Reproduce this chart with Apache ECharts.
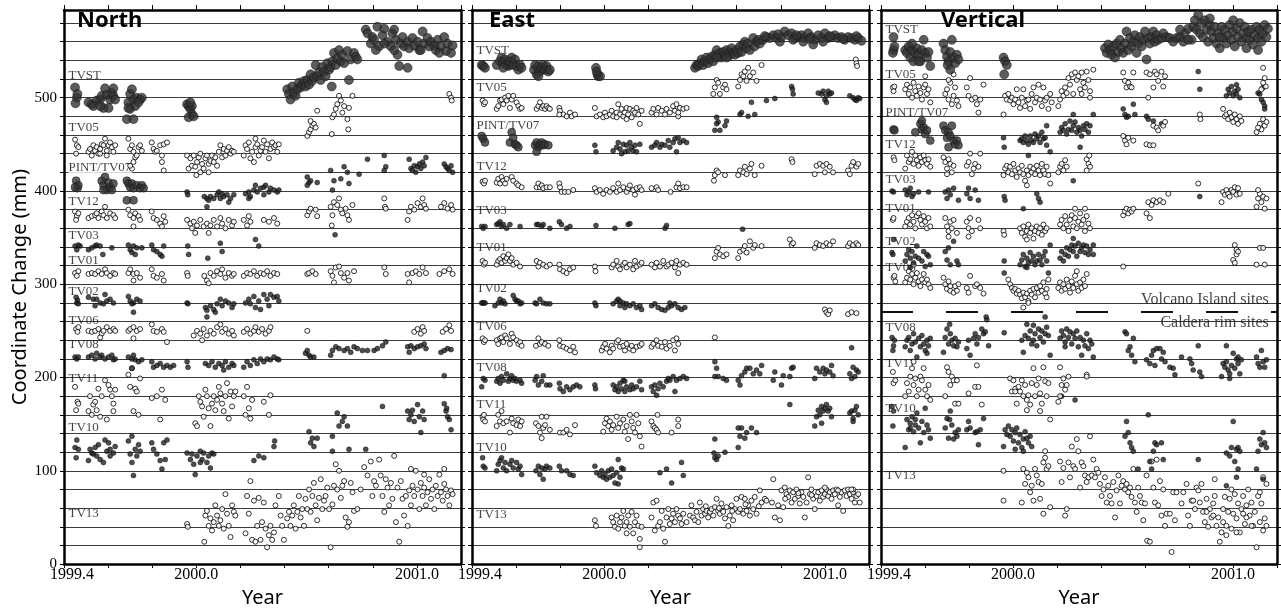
<!DOCTYPE html>
<html><head><meta charset="utf-8">
<script src="https://cdn.jsdelivr.net/npm/echarts@6/dist/echarts.min.js"></script>
<style>html,body{margin:0;padding:0;background:#fff;}#c{width:1281px;height:613px;}</style>
</head><body><div id="c"></div>
<script>
const X_MIN = 1999.4, X_MAX = 2001.2, X_STEP = 0.2, Y_MIN = 0, Y_MAX = 594, Y_STEP = 20;
const X_LABELS = ['1999.4', '2000.0', '2001.0'];
const PANEL_TITLES = ['North', 'East', 'Vertical'];
const STATIONS = ['TVST','TV05','PINT/TV07','TV12','TV03','TV01','TV02','TV06','TV08','TV11','TV10','TV13'];
const LABEL_X = 1999.418;
const N_LABEL_Y = [524,468,425,389,352,325,292,261,235,199,146,54];
const E_LABEL_Y = [551,511,470,426,379,339,295,255,211,171,125,53];
const V_LABEL_Y = [573,525,484,450,412,381,346,318,254,215,167,95];
const SITE_NOTES = ['Volcano Island sites', 'Caldera rim sites'];
const SITE_NOTE_X = 2001.165;
const SITE_NOTE_Y = [283, 259];
const DIVIDER_Y = 270;

// ---------------- North ----------------
const N_TVST = [[1999.450,511],[1999.458,500],[1999.461,504],[1999.452,494],
[1999.511,495],[1999.526,493],[1999.548,497],[1999.564,498],[1999.571,502],[1999.586,510],[1999.594,503],[1999.609,498],[1999.617,505],[1999.624,502],[1999.632,498],[1999.602,489],[1999.579,489],[1999.533,491],[1999.564,491],[1999.624,510],
[1999.685,477],[1999.715,477],[1999.692,495],[1999.700,504],[1999.708,509],[1999.715,498],[1999.730,500],[1999.745,498],[1999.753,500],[1999.723,491],[1999.700,488],[1999.738,495],[1999.692,489],
[1999.958,493],[1999.965,491],[1999.973,488],[1999.980,491],[1999.980,482],[1999.965,479],[1999.988,480],[1999.973,495],
[2000.412,509],[2000.420,504],[2000.427,498],[2000.435,512],[2000.442,505],[2000.450,502],[2000.458,509],[2000.465,516],[2000.473,511],[2000.480,514],[2000.488,518],[2000.495,512],[2000.503,519],[2000.511,514],[2000.518,525],[2000.526,518],[2000.533,522],[2000.541,535],[2000.548,523],[2000.556,527],[2000.564,519],[2000.571,533],[2000.579,528],[2000.586,523],[2000.594,537],[2000.602,530],[2000.609,533],[2000.617,539],[2000.624,548],[2000.632,535],[2000.639,542],[2000.647,551],[2000.655,539],[2000.662,546],[2000.670,537],[2000.685,550],[2000.692,519],[2000.700,541],[2000.715,548],[2000.723,544],[2000.730,541],[2000.614,512],
[2000.768,573],[2000.776,569],[2000.791,558],[2000.798,565],[2000.806,562],[2000.821,576],[2000.829,555],[2000.844,567],[2000.852,574],[2000.867,560],[2000.882,555],[2000.889,569],[2000.897,573],[2000.905,562],[2000.912,546],[2000.920,534],[2000.927,558],[2000.935,565],[2000.942,555],[2000.958,560],[2000.958,532],[2000.965,553],[2000.980,564],[2000.988,556],[2001.003,560],[2001.011,551],[2001.026,571],[2001.033,558],[2001.048,564],[2001.056,555],[2001.064,560],[2001.079,556],[2001.086,551],[2001.094,562],[2001.109,555],[2001.124,565],[2001.132,550],[2001.139,558],[2001.155,548],[2001.162,556],[2000.814,551],[2000.852,558],[2000.897,551],[2001.018,551],[2001.102,548]];
const N_TV05 = [[1999.450,455],[1999.458,449],[1999.465,447],[1999.455,440],
[1999.511,442],[1999.518,445],[1999.533,449],[1999.541,443],[1999.548,447],[1999.556,440],[1999.564,445],[1999.571,450],[1999.579,449],[1999.586,456],[1999.594,443],[1999.602,449],[1999.609,452],[1999.617,447],[1999.624,442],[1999.632,449],[1999.526,438],[1999.564,440],[1999.594,438],
[1999.692,456],[1999.700,445],[1999.708,449],[1999.715,442],[1999.723,436],[1999.730,438],[1999.738,447],[1999.745,449],[1999.753,443],[1999.715,431],[1999.708,424],[1999.700,427],
[1999.798,452],[1999.806,445],[1999.814,442],[1999.821,443],[1999.836,449],[1999.852,450],[1999.844,431],[1999.852,422],[1999.867,452],[1999.844,438],
[1999.958,438],[1999.965,424],[1999.973,435],[1999.980,427],[1999.988,438],[1999.995,426],[2000.003,431],[2000.011,436],[2000.018,440],[2000.026,429],[2000.033,424],[2000.041,435],[2000.048,438],[2000.056,429],[2000.064,432],[2000.071,438],[2000.079,431],[2000.086,436],[2000.094,427],[2000.102,442],[2000.109,449],[2000.117,436],[2000.124,445],[2000.132,438],[2000.139,443],[2000.147,447],[2000.155,440],[2000.162,443],[2000.170,442],[2000.000,417],[2000.018,420],[2000.056,420],
[2000.215,438],[2000.223,449],[2000.230,445],[2000.238,452],[2000.245,435],[2000.253,442],[2000.261,431],[2000.268,447],[2000.276,450],[2000.283,438],[2000.291,443],[2000.298,447],[2000.306,454],[2000.314,442],[2000.321,450],[2000.329,435],[2000.336,445],[2000.344,452],[2000.352,447],[2000.359,449],[2000.367,442],[2000.374,450],[2000.268,456],
[2000.503,459],[2000.511,463],[2000.518,466],[2000.526,470],[2000.533,472],[2000.541,468],[2000.518,475],[2000.548,486],[2000.614,461],[2000.617,479],[2000.624,482],[2000.632,488],[2000.639,493],[2000.647,502],[2000.655,497],[2000.662,484],[2000.670,491],[2000.685,477],[2000.692,489],[2000.689,466],[2000.708,502],[2001.147,504],[2001.155,500],[2001.158,497]];
const N_PINT_A = [[1999.455,411],[1999.461,403],[1999.465,406],[1999.450,404],
[1999.571,411],[1999.579,406],[1999.586,415],[1999.594,401],[1999.602,409],[1999.609,404],[1999.617,401],[1999.624,408],[1999.579,401],
[1999.685,411],[1999.692,408],[1999.700,404],[1999.708,408],[1999.715,403],[1999.730,406],[1999.745,403],[1999.753,406],[1999.761,403],[1999.685,390],[1999.715,390]];
const N_PINT_B = [[1999.958,399],[1999.961,396],
[2000.036,394],[2000.048,392],[2000.056,390],[2000.064,394],[2000.079,392],[2000.094,396],[2000.102,399],[2000.109,392],[2000.117,397],[2000.124,394],[2000.139,396],[2000.155,392],[2000.170,396],[2000.048,383],[2000.147,388],
[2000.223,397],[2000.238,399],[2000.245,394],[2000.261,401],[2000.268,406],[2000.276,399],[2000.291,403],[2000.306,404],[2000.314,406],[2000.329,399],[2000.336,403],[2000.352,401],[2000.367,399],[2000.374,401],[2000.306,396],[2000.238,392],
[2000.503,415],[2000.511,409],[2000.518,411],[2000.503,406],[2000.548,409],[2000.609,422],[2000.617,401],[2000.624,411],[2000.655,413],[2000.670,426],[2000.685,420],[2000.692,408],[2000.738,418],[2000.776,434],[2000.852,438],[2000.859,426],[2000.852,422],[2000.965,434],[2000.973,424],[2000.988,427],[2000.995,420],[2001.003,426],[2001.011,429],[2001.018,424],[2001.026,431],[2001.033,427],[2001.041,436],[2000.980,422],[2001.124,429],[2001.132,426],[2001.139,424],[2001.147,422],[2001.155,427],[2001.162,420]];
const N_TV12 = [[1999.450,378],[1999.458,373],[1999.465,376],[1999.455,369],
[1999.511,371],[1999.526,373],[1999.541,374],[1999.548,376],[1999.556,371],[1999.571,378],[1999.579,374],[1999.586,383],[1999.594,371],[1999.609,376],[1999.624,374],[1999.632,371],
[1999.692,380],[1999.700,374],[1999.715,371],[1999.723,376],[1999.738,373],[1999.745,369],[1999.715,362],
[1999.798,378],[1999.806,371],[1999.821,369],[1999.836,365],[1999.844,362],[1999.852,373],[1999.859,367],
[1999.958,369],[1999.973,365],[1999.980,360],[1999.988,367],[1999.995,355],[2000.003,363],[2000.018,369],[2000.033,362],[2000.048,365],[2000.056,355],[2000.064,363],[2000.079,369],[2000.094,362],[2000.109,371],[2000.117,365],[2000.132,360],[2000.147,369],[2000.162,363],[2000.170,367],
[2000.215,369],[2000.230,363],[2000.238,373],[2000.245,367],[2000.306,369],[2000.329,367],[2000.352,371],[2000.367,365],
[2000.503,374],[2000.511,378],[2000.518,381],[2000.541,380],[2000.548,373],[2000.609,383],[2000.617,374],[2000.624,388],[2000.639,385],[2000.647,392],[2000.655,380],[2000.662,376],[2000.677,381],[2000.685,374],[2000.692,369],[2000.708,385],[2000.614,363],[2000.852,392],[2000.855,383],[2000.859,381],[2000.958,369],[2000.965,378],[2000.973,383],[2000.988,380],[2001.003,387],[2001.018,383],[2001.026,392],[2001.033,385],[2001.041,381],[2001.109,383],[2001.124,387],[2001.139,381],[2001.155,385],[2001.162,380]];
const N_TV03 = [[1999.450,341],[1999.458,337],[1999.473,341],[1999.465,342],
[1999.511,337],[1999.526,339],[1999.541,341],[1999.548,342],[1999.564,341],[1999.576,332],[1999.617,339],
[1999.692,342],[1999.700,337],[1999.708,334],[1999.715,341],[1999.723,332],[1999.730,339],[1999.753,339],
[1999.798,342],[1999.806,337],[1999.821,335],[1999.836,332],[1999.852,341],[1999.844,330],
[1999.961,341],[1999.965,332],[2000.052,328],[2000.109,344],[2000.117,335],[2000.268,348],[2000.283,341],[2000.629,353]];
const N_TV01 = [[1999.450,312],[1999.458,309],[1999.465,314],
[1999.511,311],[1999.526,312],[1999.541,311],[1999.556,314],[1999.571,311],[1999.586,316],[1999.594,312],[1999.609,309],[1999.624,312],[1999.632,311],
[1999.692,312],[1999.700,316],[1999.715,311],[1999.730,312],[1999.745,307],[1999.715,304],
[1999.798,316],[1999.806,309],[1999.821,307],[1999.844,311],[1999.852,304],
[1999.958,312],[1999.961,309],
[2000.036,309],[2000.048,304],[2000.064,312],[2000.079,309],[2000.094,314],[2000.109,311],[2000.117,316],[2000.132,307],[2000.147,312],[2000.162,309],[2000.170,311],[2000.056,301],
[2000.215,309],[2000.230,312],[2000.245,311],[2000.261,314],[2000.276,309],[2000.291,312],[2000.306,311],[2000.321,314],[2000.336,309],[2000.352,312],[2000.367,311],
[2000.503,311],[2000.511,312],[2000.526,314],[2000.541,311],[2000.609,314],[2000.617,309],[2000.624,302],[2000.632,318],[2000.647,319],[2000.655,312],[2000.670,307],[2000.685,312],[2000.692,304],[2000.715,314],[2000.852,318],[2000.859,311],[2000.958,311],[2000.965,302],[2000.980,312],[2000.995,314],[2001.011,311],[2001.026,318],[2001.041,312],[2001.102,311],[2001.124,314],[2001.147,316],[2001.162,311]];
const N_TV02 = [[1999.458,280],[1999.461,283],[1999.465,279],[1999.455,286],
[1999.511,286],[1999.533,284],[1999.548,284],[1999.564,280],[1999.586,289],[1999.594,282],[1999.609,284],[1999.624,280],[1999.579,279],[1999.541,277],
[1999.692,287],[1999.700,282],[1999.715,280],[1999.730,284],[1999.745,282],[1999.715,270],[1999.708,279],
[1999.958,280],[1999.962,279],
[2000.041,275],[2000.048,272],[2000.064,277],[2000.079,273],[2000.094,279],[2000.109,284],[2000.117,277],[2000.132,282],[2000.147,280],[2000.162,275],[2000.170,279],[2000.048,265],[2000.086,270],
[2000.223,280],[2000.238,284],[2000.245,279],[2000.261,287],[2000.268,275],[2000.283,282],[2000.306,289],[2000.321,284],[2000.329,277],[2000.336,289],[2000.352,286],[2000.367,287],[2000.374,282],[2000.291,273]];
const N_TV06 = [[1999.455,252],[1999.461,249],[1999.465,254],
[1999.511,250],[1999.526,249],[1999.541,250],[1999.556,252],[1999.571,247],[1999.579,250],[1999.594,254],[1999.609,250],[1999.624,252],[1999.632,250],[1999.564,243],
[1999.692,250],[1999.700,252],[1999.715,254],[1999.730,250],[1999.745,252],[1999.715,242],
[1999.798,257],[1999.806,250],[1999.821,249],[1999.844,252],[1999.852,249],[1999.867,238],
[1999.988,245],[2000.003,250],[2000.018,247],[2000.026,240],[2000.033,252],[2000.048,245],[2000.064,250],[2000.079,247],[2000.094,254],[2000.109,257],[2000.117,249],[2000.132,252],[2000.147,247],[2000.162,250],[2000.170,245],
[2000.215,249],[2000.230,252],[2000.245,247],[2000.261,250],[2000.268,254],[2000.283,249],[2000.298,252],[2000.314,247],[2000.329,250],[2000.336,254],
[2000.503,250],[2000.988,249],[2001.003,252],[2001.018,247],[2001.026,254],[2001.033,250],[2001.117,249],[2001.132,252],[2001.147,256],[2001.155,250]];
const N_TV08 = [[1999.450,222],[1999.458,220],[1999.465,222],
[1999.511,222],[1999.526,224],[1999.541,220],[1999.548,226],[1999.564,222],[1999.571,224],[1999.586,220],[1999.602,222],[1999.617,224],[1999.624,219],[1999.632,220],
[1999.692,222],[1999.708,220],[1999.715,224],[1999.723,219],[1999.738,217],[1999.753,219],[1999.708,210],
[1999.798,217],[1999.806,211],[1999.821,213],[1999.836,215],[1999.852,211],[1999.867,213],[1999.882,211],[1999.897,213],
[1999.958,217],[1999.962,211],
[2000.041,215],[2000.056,213],[2000.071,217],[2000.086,211],[2000.102,215],[2000.117,213],[2000.132,217],[2000.147,211],[2000.162,215],[2000.170,213],[2000.124,208],
[2000.215,211],[2000.230,217],[2000.245,213],[2000.261,219],[2000.276,215],[2000.291,220],[2000.306,217],[2000.321,220],[2000.336,219],[2000.352,222],[2000.367,220],[2000.374,219],
[2000.495,226],[2000.503,229],[2000.511,224],[2000.518,222],[2000.533,222],
[2000.609,224],[2000.617,229],[2000.632,233],[2000.647,231],[2000.670,229],[2000.685,231],[2000.700,227],[2000.715,233],[2000.730,231],[2000.753,229],[2000.776,229],[2000.806,229],[2000.821,231],[2000.844,234],[2000.859,238],[2000.958,233],[2000.965,227],[2000.973,234],[2000.988,231],[2001.003,233],[2001.018,234],[2001.033,236],[2001.041,231],[2001.109,227],[2001.124,229],[2001.139,231],[2001.155,230],[2001.124,202]];
const N_TV11 = [[1999.450,190],[1999.455,165],[1999.461,174],[1999.465,172],
[1999.511,164],[1999.518,180],[1999.526,160],[1999.533,171],[1999.541,174],[1999.548,165],[1999.556,188],[1999.564,158],[1999.571,180],[1999.586,197],[1999.594,155],[1999.602,192],[1999.609,187],[1999.617,180],[1999.624,164],[1999.632,187],[1999.624,172],
[1999.692,203],[1999.700,190],[1999.708,210],[1999.715,164],[1999.723,188],[1999.730,185],[1999.738,160],[1999.745,199],
[1999.798,178],[1999.821,180],[1999.836,155],[1999.844,187],[1999.859,176],
[1999.995,151],[2000.003,148],[2000.011,180],[2000.018,174],[2000.026,169],[2000.033,158],[2000.041,187],[2000.048,180],[2000.056,167],[2000.064,148],[2000.071,172],[2000.079,180],[2000.086,165],[2000.094,176],[2000.102,190],[2000.109,183],[2000.117,172],[2000.124,164],[2000.132,180],[2000.139,194],[2000.147,156],[2000.155,185],[2000.162,169],[2000.170,180],[2000.177,185],
[2000.215,180],[2000.223,160],[2000.230,190],[2000.238,167],[2000.245,156],[2000.253,176],[2000.306,174],[2000.329,160],[2000.336,181]];
const N_TV10 = [[1999.450,125],[1999.458,133],[1999.455,114],[1999.465,123],
[1999.511,111],[1999.518,123],[1999.526,119],[1999.533,118],[1999.541,125],[1999.548,116],[1999.556,128],[1999.564,112],[1999.579,109],[1999.586,133],[1999.594,121],[1999.602,130],[1999.609,123],[1999.624,119],[1999.632,126],[1999.609,116],
[1999.692,132],[1999.700,118],[1999.708,137],[1999.715,95],[1999.723,123],[1999.730,116],[1999.738,128],[1999.745,121],[1999.708,109],
[1999.798,130],[1999.806,123],[1999.821,118],[1999.836,111],[1999.844,102],[1999.852,130],[1999.867,133],[1999.859,112],
[1999.958,119],[1999.973,112],[1999.980,118],[1999.988,107],[1999.995,96],[2000.003,116],[2000.018,121],[2000.026,112],[2000.033,119],[2000.048,109],[2000.056,116],[2000.064,103],[2000.071,119],[2000.079,118],[2000.018,109],
[2000.261,111],[2000.283,116],[2000.306,114],[2000.352,126],[2000.355,132],
[2000.511,142],[2000.518,130],[2000.526,135],[2000.533,126],[2000.548,135],[2000.617,137],[2000.617,121],[2000.639,162],[2000.647,148],[2000.662,153],[2000.670,158],[2000.685,148],[2000.692,123],[2000.768,123],[2000.844,169],[2000.958,164],[2000.965,155],[2000.973,160],[2000.980,165],[2000.988,153],[2001.003,171],[2001.011,158],[2001.018,141],[2001.026,164],[2001.033,155],[2001.124,172],[2001.132,164],[2001.139,158],[2001.147,155],[2001.155,144],[2001.135,167]];
const N_TV13 = [[1999.958,43],[1999.961,40],[2000.036,24],[2000.041,52],[2000.048,57],[2000.056,41],[2000.064,49],[2000.071,36],[2000.079,45],[2000.086,63],[2000.094,52],[2000.102,41],[2000.109,47],[2000.117,59],[2000.124,38],[2000.132,75],[2000.139,54],[2000.147,41],[2000.155,29],[2000.162,63],[2000.170,56],[2000.177,52],
[2000.223,33],[2000.230,73],[2000.238,54],[2000.245,89],[2000.253,26],[2000.261,68],[2000.268,24],[2000.276,41],[2000.283,71],[2000.291,26],[2000.298,45],[2000.306,66],[2000.314,38],[2000.321,18],[2000.329,31],[2000.336,41],[2000.344,26],[2000.352,34],[2000.359,63],[2000.374,73],[2000.382,52],[2000.389,41],[2000.397,26],
[2000.412,49],[2000.420,56],[2000.427,41],[2000.435,52],[2000.442,63],[2000.450,38],[2000.458,56],[2000.465,73],[2000.473,50],[2000.480,59],[2000.488,41],[2000.495,70],[2000.503,59],[2000.511,80],[2000.518,56],[2000.526,73],[2000.533,87],[2000.541,63],[2000.548,47],[2000.556,71],[2000.564,91],[2000.571,59],[2000.579,68],[2000.586,73],[2000.594,82],[2000.602,59],[2000.609,18],[2000.617,64],[2000.624,84],[2000.632,107],[2000.639,80],[2000.647,100],[2000.655,71],[2000.662,84],[2000.670,89],[2000.677,50],[2000.685,40],[2000.692,45],[2000.700,87],[2000.708,77],[2000.715,57],[2000.730,59],[2000.745,80],[2000.761,104],[2000.776,95],[2000.791,110],[2000.798,73],[2000.806,89],[2000.814,84],[2000.829,112],[2000.836,95],[2000.844,73],[2000.852,56],[2000.859,91],[2000.867,82],[2000.874,63],[2000.882,87],[2000.889,70],[2000.897,116],[2000.905,45],[2000.912,82],[2000.920,24],[2000.927,89],[2000.935,70],[2000.942,52],[2000.950,73],[2000.958,41],[2000.965,79],[2000.973,63],[2000.980,84],[2000.988,73],[2000.995,100],[2001.003,80],[2001.011,59],[2001.018,87],[2001.026,73],[2001.033,82],[2001.041,63],[2001.048,77],[2001.056,91],[2001.064,70],[2001.071,80],[2001.079,59],[2001.086,84],[2001.094,73],[2001.102,96],[2001.109,77],[2001.117,68],[2001.124,86],[2001.132,80],[2001.139,73],[2001.147,63],[2001.155,79],[2001.162,75],[2000.973,102],[2001.033,96],[2001.124,102]];

// ---------------- East ----------------
const E_TVST = [[1999.444,535],[1999.451,534],[1999.459,532],
[1999.512,535],[1999.527,539],[1999.534,543],[1999.542,537],[1999.550,541],[1999.557,535],[1999.565,534],[1999.572,539],[1999.580,543],[1999.587,535],[1999.595,541],[1999.602,534],[1999.610,530],[1999.618,535],[1999.625,532],[1999.542,532],
[1999.681,530],[1999.686,535],[1999.693,525],[1999.701,534],[1999.708,528],[1999.716,532],[1999.723,535],[1999.731,530],[1999.738,534],[1999.746,528],[1999.753,530],[1999.701,523],
[1999.962,532],[1999.969,525],[1999.972,523],[1999.981,523],[1999.965,528],
[2000.411,532],[2000.418,535],[2000.426,534],[2000.433,537],[2000.441,541],[2000.448,535],[2000.456,539],[2000.463,543],[2000.471,537],[2000.479,541],[2000.486,544],[2000.494,539],[2000.501,546],[2000.509,551],[2000.516,544],[2000.524,548],[2000.531,543],[2000.539,549],[2000.547,546],[2000.554,551],[2000.562,544],[2000.569,549],[2000.577,553],[2000.584,548],[2000.592,546],[2000.599,551],[2000.607,548],[2000.615,555],[2000.622,549],[2000.630,557],[2000.637,560],[2000.645,553],[2000.652,558],[2000.660,551],[2000.675,564],[2000.682,555],[2000.690,560],[2000.698,562],[2000.705,558],[2000.509,543],[2000.554,543],
[2000.720,562],[2000.735,565],[2000.750,564],[2000.766,567],[2000.781,564],[2000.796,560],[2000.803,565],[2000.818,571],[2000.834,567],[2000.849,569],[2000.864,564],[2000.879,565],[2000.894,567],[2000.909,564],[2000.924,569],[2000.939,565],[2000.954,562],[2000.970,567],[2000.985,564],[2001.000,569],[2001.015,564],[2001.030,565],[2001.045,567],[2001.060,564],[2001.075,565],[2001.090,562],[2001.105,565],[2001.121,564],[2001.136,562],[2001.151,564],[2001.166,561],[2000.947,557],[2000.856,562],[2000.902,560],[2000.992,560],[2000.727,566],[2000.788,568],[2000.871,567],[2000.932,563],[2001.022,566],[2001.083,563],[2001.143,566]];
const E_TV05 = [[1999.448,497],[1999.454,493],[1999.459,495],
[1999.512,488],[1999.519,491],[1999.527,497],[1999.534,498],[1999.542,493],[1999.550,500],[1999.557,497],[1999.565,502],[1999.572,489],[1999.580,498],[1999.587,502],[1999.602,495],[1999.610,491],[1999.618,488],[1999.625,489],
[1999.693,488],[1999.701,491],[1999.708,495],[1999.716,489],[1999.723,491],[1999.731,488],[1999.738,491],[1999.746,489],[1999.753,488],
[1999.796,489],[1999.799,486],[1999.814,482],[1999.829,480],[1999.844,484],[1999.852,480],[1999.867,482],[1999.796,482],
[1999.957,489],
[1999.965,480],[1999.980,482],[1999.995,479],[2000.003,484],[2000.010,480],[2000.025,482],[2000.033,486],[2000.040,480],[2000.056,484],[2000.063,493],[2000.071,482],[2000.078,488],[2000.086,480],[2000.093,484],[2000.101,489],[2000.108,482],[2000.116,488],[2000.124,479],[2000.131,486],[2000.139,484],[2000.146,489],[2000.154,482],[2000.161,472],[2000.169,486],[2000.056,479],[2000.101,477],
[2000.214,484],[2000.222,488],[2000.237,482],[2000.244,489],[2000.260,486],[2000.275,482],[2000.282,488],[2000.297,484],[2000.312,491],[2000.320,486],[2000.327,493],[2000.335,480],[2000.343,489],[2000.358,488],[2000.373,489],[2000.335,484],
[2000.494,504],[2000.501,511],[2000.509,519],[2000.516,516],[2000.524,504],[2000.539,511],[2000.547,514],[2000.554,509],[2000.607,512],[2000.615,519],[2000.622,525],[2000.630,523],[2000.637,528],[2000.645,518],[2000.652,532],[2000.660,523],[2000.675,527],[2000.690,518],[2000.713,535],
[2001.140,541],[2001.143,537],[2001.146,534]];
const E_PINT_A = [[1999.444,459],[1999.451,456],[1999.459,452],
[1999.572,452],[1999.580,463],[1999.587,457],[1999.595,450],[1999.602,449],[1999.610,447],
[1999.686,449],[1999.693,452],[1999.701,447],[1999.708,450],[1999.716,452],[1999.723,449],[1999.731,450],[1999.746,449],[1999.693,442]];
const E_PINT_B = [[1999.957,449],[1999.962,442],
[2000.040,443],[2000.056,447],[2000.063,452],[2000.071,445],[2000.086,450],[2000.093,442],[2000.101,449],[2000.108,443],[2000.116,452],[2000.124,447],[2000.131,443],[2000.139,449],[2000.146,442],[2000.161,450],[2000.078,440],
[2000.214,447],[2000.229,449],[2000.237,452],[2000.252,447],[2000.260,450],[2000.275,449],[2000.290,454],[2000.297,447],[2000.312,452],[2000.320,456],[2000.327,442],[2000.335,457],[2000.343,452],[2000.358,454],[2000.373,452],
[2000.509,479],[2000.516,474],[2000.524,465],[2000.509,472],[2000.501,465],[2000.554,475],[2000.547,470],[2000.615,482],[2000.622,484],[2000.652,480],[2000.682,482],[2000.667,495],[2000.735,497],[2000.773,499],[2000.849,512],[2000.853,509],[2000.856,504],[2000.970,505],[2000.985,504],[2000.992,507],[2001.000,498],[2001.007,502],[2001.015,507],[2001.022,504],[2001.030,505],[2001.007,495],[2001.113,502],[2001.128,500],[2001.136,498],[2001.143,497],[2001.151,500],[2001.158,499]];
const E_TV12 = [[1999.448,410],[1999.454,408],[1999.459,411],
[1999.512,409],[1999.519,413],[1999.527,408],[1999.534,415],[1999.542,411],[1999.550,408],[1999.557,413],[1999.580,415],[1999.587,411],[1999.602,408],[1999.610,406],[1999.625,404],
[1999.693,404],[1999.701,408],[1999.708,404],[1999.716,406],[1999.723,403],[1999.738,404],[1999.753,404],
[1999.796,408],[1999.799,404],[1999.806,399],[1999.821,399],[1999.837,399],[1999.859,401],
[1999.957,403],[1999.965,399],[1999.980,401],[1999.995,397],[2000.010,401],[2000.025,399],[2000.040,403],[2000.056,399],[2000.063,408],[2000.071,401],[2000.086,404],[2000.101,399],[2000.108,403],[2000.116,406],[2000.131,401],[2000.139,396],[2000.146,403],[2000.161,404],[2000.169,401],
[2000.214,403],[2000.237,404],[2000.244,401],[2000.300,399],[2000.327,404],[2000.335,408],[2000.343,403],[2000.358,404],[2000.373,404],
[2000.497,411],[2000.501,417],[2000.509,422],[2000.516,420],[2000.547,417],[2000.607,417],[2000.615,422],[2000.630,420],[2000.637,426],[2000.645,418],[2000.660,424],[2000.667,429],[2000.682,417],[2000.713,427],[2000.849,434],[2000.853,431],[2000.954,418],[2000.962,427],[2000.977,429],[2000.992,427],[2001.000,420],[2001.007,429],[2001.022,426],[2001.037,420],[2001.105,422],[2001.121,427],[2001.128,431],[2001.143,426],[2001.151,429],[2001.113,418]];
const E_TV03 = [[1999.444,362],[1999.451,360],[1999.459,362],
[1999.512,364],[1999.519,365],[1999.527,367],[1999.534,362],[1999.542,364],[1999.557,360],[1999.572,364],[1999.618,362],
[1999.693,364],[1999.701,364],[1999.716,362],[1999.723,364],[1999.753,360],
[1999.796,367],[1999.806,364],[1999.829,360],[1999.844,362],
[1999.962,363],[2000.048,360],[2000.108,364],[2000.116,365],[2000.275,360],[2000.282,363],[2000.627,359]];
const E_TV01 = [[1999.448,325],[1999.454,321],[1999.459,323],
[1999.512,321],[1999.519,325],[1999.527,327],[1999.534,323],[1999.542,330],[1999.550,325],[1999.557,328],[1999.565,332],[1999.572,325],[1999.580,328],[1999.587,321],[1999.602,323],[1999.618,319],
[1999.693,325],[1999.701,319],[1999.708,323],[1999.723,321],[1999.738,319],[1999.753,321],
[1999.796,321],[1999.799,316],[1999.814,314],[1999.829,312],[1999.844,316],[1999.859,318],
[1999.957,319],[1999.960,314],
[2000.033,318],[2000.040,321],[2000.056,325],[2000.063,319],[2000.071,316],[2000.086,321],[2000.093,323],[2000.101,318],[2000.116,321],[2000.131,316],[2000.139,325],[2000.146,319],[2000.161,321],[2000.169,323],
[2000.214,321],[2000.229,318],[2000.237,323],[2000.252,319],[2000.267,325],[2000.282,319],[2000.290,321],[2000.305,323],[2000.320,318],[2000.327,325],[2000.335,312],[2000.343,321],[2000.358,323],[2000.373,321],
[2000.501,328],[2000.509,335],[2000.516,339],[2000.524,332],[2000.539,330],[2000.554,332],[2000.607,328],[2000.615,335],[2000.630,337],[2000.637,341],[2000.645,334],[2000.660,346],[2000.675,339],[2000.682,342],[2000.713,341],[2000.841,348],[2000.849,342],[2000.856,344],[2000.954,339],[2000.962,344],[2000.977,342],[2000.992,341],[2001.007,344],[2001.022,342],[2001.037,346],[2001.105,341],[2001.113,344],[2001.128,342],[2001.143,344],[2001.151,342]];
const E_TV02 = [[1999.448,280],[1999.454,280],[1999.444,280],[1999.459,280],
[1999.504,277],[1999.519,280],[1999.527,284],[1999.534,280],[1999.542,282],[1999.550,279],[1999.587,288],[1999.595,284],[1999.602,282],[1999.610,282],[1999.618,279],[1999.625,280],
[1999.686,280],[1999.693,279],[1999.708,284],[1999.723,280],[1999.738,279],[1999.753,279],
[1999.957,280],[1999.962,277],
[2000.040,279],[2000.056,282],[2000.071,277],[2000.086,280],[2000.093,275],[2000.101,279],[2000.116,277],[2000.131,279],[2000.146,275],[2000.161,277],[2000.169,273],[2000.071,282],[2000.063,284],
[2000.214,277],[2000.229,279],[2000.244,275],[2000.260,273],[2000.275,272],[2000.290,275],[2000.305,277],[2000.320,279],[2000.335,275],[2000.350,273],[2000.365,275],[2000.297,280]];
const E_TV06 = [[1999.448,242],[1999.454,238],[1999.459,240],
[1999.512,240],[1999.519,236],[1999.527,242],[1999.534,243],[1999.542,238],[1999.550,245],[1999.557,242],[1999.572,236],[1999.580,247],[1999.587,243],[1999.602,240],[1999.610,236],[1999.618,238],[1999.625,234],
[1999.690,234],[1999.701,242],[1999.708,236],[1999.716,238],[1999.731,236],[1999.746,234],
[1999.796,240],[1999.799,234],[1999.814,233],[1999.829,231],[1999.844,229],[1999.859,233],[1999.867,227],
[1999.988,229],[1999.995,233],[2000.003,236],[2000.010,231],[2000.025,227],[2000.033,234],[2000.040,231],[2000.056,238],[2000.063,240],[2000.071,233],[2000.086,234],[2000.093,229],[2000.101,236],[2000.116,231],[2000.124,234],[2000.131,229],[2000.146,233],[2000.161,234],[2000.169,236],
[2000.214,233],[2000.222,236],[2000.237,240],[2000.244,234],[2000.260,233],[2000.275,238],[2000.282,231],[2000.297,234],[2000.312,240],[2000.320,229],[2000.327,242],[2000.335,236],
[2000.501,243],[2001.000,273],[2001.007,270],[2001.015,268],[2001.022,272],[2001.105,268],[2001.121,270],[2001.143,269]];
const E_TV08 = [[1999.444,190],[1999.451,199],[1999.459,197],
[1999.512,196],[1999.519,199],[1999.527,194],[1999.534,201],[1999.542,197],[1999.557,204],[1999.565,196],[1999.572,199],[1999.580,202],[1999.587,197],[1999.595,199],[1999.602,196],[1999.618,197],[1999.625,194],
[1999.686,197],[1999.693,201],[1999.701,192],[1999.716,196],[1999.723,202],[1999.738,192],[1999.753,192],
[1999.796,194],[1999.799,188],[1999.814,185],[1999.829,190],[1999.844,187],[1999.859,190],[1999.874,192],[1999.889,190],
[1999.957,192],[1999.960,188],
[2000.040,192],[2000.048,187],[2000.056,190],[2000.063,185],[2000.071,194],[2000.078,188],[2000.086,197],[2000.093,185],[2000.101,190],[2000.116,187],[2000.124,192],[2000.131,188],[2000.146,190],[2000.161,196],[2000.169,187],[2000.093,196],
[2000.214,190],[2000.222,185],[2000.229,192],[2000.237,181],[2000.244,188],[2000.252,194],[2000.267,190],[2000.282,196],[2000.290,199],[2000.297,197],[2000.312,201],[2000.320,185],[2000.327,197],[2000.343,199],[2000.358,201],[2000.373,199],
[2000.501,217],[2000.509,210],[2000.501,201],[2000.516,201],[2000.539,199],[2000.554,197],[2000.607,197],[2000.615,192],[2000.622,202],[2000.637,206],[2000.645,210],[2000.660,210],[2000.675,204],[2000.690,208],[2000.705,204],[2000.713,213],[2000.766,197],[2000.773,206],[2000.803,192],[2000.811,202],[2000.841,201],[2000.849,210],[2000.856,211],[2000.954,199],[2000.962,210],[2000.977,206],[2000.992,210],[2001.000,204],[2001.007,208],[2001.022,206],[2001.030,213],[2001.037,202],[2001.113,204],[2001.128,211],[2001.136,201],[2001.143,208],[2001.151,206],[2001.121,199],[2001.121,232]];
const E_TV11 = [[1999.448,158],[1999.451,155],[1999.459,153],[1999.454,160],
[1999.512,148],[1999.519,160],[1999.527,153],[1999.534,164],[1999.542,151],[1999.557,153],[1999.572,141],[1999.580,156],[1999.587,151],[1999.602,149],[1999.610,155],[1999.618,148],[1999.625,153],
[1999.690,151],[1999.701,148],[1999.708,141],[1999.716,158],[1999.723,146],[1999.731,149],[1999.738,158],[1999.716,135],[1999.753,144],
[1999.799,141],[1999.814,141],[1999.829,144],[1999.844,139],[1999.867,149],
[1999.995,142],[2000.003,151],[2000.010,156],[2000.018,148],[2000.025,153],[2000.033,144],[2000.040,149],[2000.056,158],[2000.063,146],[2000.071,151],[2000.086,155],[2000.093,142],[2000.101,148],[2000.108,134],[2000.116,160],[2000.124,153],[2000.131,146],[2000.139,141],[2000.146,160],[2000.154,151],[2000.161,137],[2000.169,126],
[2000.214,153],[2000.222,148],[2000.229,146],[2000.237,144],[2000.244,141],[2000.241,160],[2000.305,141],[2000.335,155],[2000.335,148]];
const E_TV10 = [[1999.448,114],[1999.451,105],[1999.459,103],
[1999.512,100],[1999.519,107],[1999.527,111],[1999.534,114],[1999.542,103],[1999.550,109],[1999.557,100],[1999.572,107],[1999.580,111],[1999.587,103],[1999.602,109],[1999.610,102],[1999.618,105],[1999.625,96],
[1999.690,100],[1999.701,105],[1999.708,96],[1999.716,103],[1999.723,91],[1999.731,102],[1999.738,105],[1999.753,103],
[1999.796,105],[1999.806,100],[1999.829,100],[1999.844,96],[1999.859,95],
[1999.957,105],[1999.965,98],[1999.980,95],[1999.988,100],[1999.995,93],[2000.003,96],[2000.010,91],[2000.018,100],[2000.025,93],[2000.033,102],[2000.040,95],[2000.048,87],[2000.056,98],[2000.063,112],[2000.071,93],[2000.078,103],[2000.086,102],[2000.063,86],
[2000.252,98],[2000.282,102],[2000.305,87],[2000.350,109],[2000.358,95],
[2000.497,119],[2000.501,114],[2000.509,112],[2000.516,116],[2000.547,120],
[2000.501,134],[2000.607,146],[2000.615,137],[2000.622,146],[2000.637,135],[2000.645,141],[2000.667,146],[2000.690,141],[2000.607,125],[2000.841,171],
[2000.954,148],[2000.962,158],[2000.970,165],[2000.977,160],[2000.985,169],[2000.992,164],[2001.000,167],[2001.007,171],[2001.015,164],[2001.022,167],[2001.030,158],[2000.985,151],
[2001.113,162],[2001.121,164],[2001.128,156],[2001.136,165],[2001.143,169],[2001.151,160],[2001.128,153]];
const E_TV13 = [[1999.957,47],[1999.962,41],[2000.033,50],[2000.040,45],[2000.048,40],[2000.056,52],[2000.063,38],[2000.071,45],[2000.078,50],[2000.086,57],[2000.093,41],[2000.101,45],[2000.108,52],[2000.116,40],[2000.124,56],[2000.131,33],[2000.139,45],[2000.146,52],[2000.154,41],[2000.161,27],[2000.161,18],[2000.169,40],[2000.101,33],
[2000.214,50],[2000.222,66],[2000.229,36],[2000.237,68],[2000.244,41],[2000.252,45],[2000.260,57],[2000.267,38],[2000.275,24],[2000.282,50],[2000.290,59],[2000.297,43],[2000.305,49],[2000.312,54],[2000.320,45],[2000.327,59],[2000.335,52],[2000.343,49],[2000.350,43],[2000.358,54],
[2000.373,45],[2000.388,52],[2000.395,63],[2000.403,50],[2000.411,47],[2000.418,56],[2000.426,45],[2000.433,66],[2000.441,52],[2000.448,59],[2000.456,54],[2000.463,57],[2000.471,50],[2000.479,56],[2000.486,59],[2000.494,52],[2000.501,61],[2000.509,70],[2000.516,57],[2000.524,54],[2000.531,65],[2000.539,56],[2000.547,49],[2000.554,61],[2000.562,41],[2000.569,52],[2000.577,63],[2000.584,47],[2000.592,59],[2000.599,70],[2000.607,56],[2000.615,59],[2000.622,72],[2000.630,54],[2000.637,70],[2000.645,57],[2000.652,63],[2000.660,52],[2000.667,68],[2000.675,59],[2000.682,72],[2000.690,54],[2000.705,79],[2000.713,66],[2000.728,70],[2000.735,68],[2000.766,91],[2000.773,50],[2000.788,63],[2000.796,47],[2000.803,79],[2000.811,61],[2000.818,82],[2000.826,75],[2000.834,72],[2000.841,79],[2000.849,66],[2000.856,77],[2000.864,70],[2000.871,80],[2000.879,73],[2000.886,65],[2000.894,77],[2000.902,72],[2000.909,50],[2000.917,66],[2000.924,93],[2000.932,75],[2000.939,80],[2000.947,70],[2000.954,59],[2000.962,73],[2000.970,77],[2000.977,68],[2000.985,79],[2000.992,72],[2001.000,75],[2001.007,80],[2001.015,73],[2001.022,77],[2001.030,70],[2001.037,79],[2001.045,75],[2001.053,80],[2001.060,63],[2001.068,72],[2001.075,77],[2001.083,57],[2001.090,79],[2001.098,73],[2001.105,80],[2001.113,75],[2001.121,70],[2001.128,77],[2001.136,66],[2001.143,73],[2001.151,75],[2001.158,66],[2001.128,80],
[2000.460,62],[2000.520,60],[2000.580,57],[2000.640,64],[2000.700,62],[2000.760,66],[2000.820,70],[2000.880,76],[2000.940,74],[2001.000,82],[2001.060,79],[2001.120,80]];

// ---------------- Vertical ----------------
const V_TVST = [[1999.457,565],[1999.457,551],[1999.454,548],[1999.461,555],
[1999.510,551],[1999.518,548],[1999.526,555],[1999.533,543],[1999.541,551],[1999.548,539],[1999.556,548],[1999.563,553],[1999.571,546],[1999.579,539],[1999.586,551],[1999.594,562],[1999.601,548],[1999.609,543],[1999.616,549],[1999.624,534],[1999.571,539],[1999.541,558],
[1999.684,558],[1999.692,551],[1999.700,544],[1999.707,539],[1999.715,549],[1999.722,562],[1999.730,543],[1999.737,537],[1999.745,546],[1999.752,541],[1999.703,535],[1999.715,530],
[1999.957,543],[1999.964,539],[1999.972,535],[1999.960,525],
[2000.418,553],[2000.426,548],[2000.433,557],[2000.441,551],[2000.448,546],[2000.456,555],[2000.464,543],[2000.471,558],[2000.479,549],[2000.486,562],[2000.494,553],[2000.501,548],[2000.509,558],[2000.516,571],[2000.524,551],[2000.532,564],[2000.539,555],[2000.547,560],[2000.554,567],[2000.562,548],[2000.569,558],[2000.577,565],[2000.585,555],[2000.592,562],[2000.600,571],[2000.607,541],[2000.615,564],[2000.622,558],[2000.630,565],[2000.638,571],[2000.645,560],[2000.653,567],[2000.660,562],[2000.675,564],[2000.683,569],[2000.698,565],[2000.713,564],[2000.728,560],[2000.743,564],[2000.759,565],[2000.774,560],[2000.781,569],[2000.796,574],[2000.812,562],[2000.819,576],[2000.827,583],[2000.834,573],[2000.842,589],[2000.849,569],[2000.857,580],[2000.864,565],[2000.872,583],[2000.880,573],[2000.887,560],[2000.895,578],[2000.902,571],[2000.910,564],[2000.917,576],[2000.925,558],[2000.933,569],[2000.940,553],[2000.948,576],[2000.955,564],[2000.963,573],[2000.970,558],[2000.978,567],[2000.985,578],[2000.993,562],[2001.001,571],[2001.008,555],[2001.016,574],[2001.023,565],[2001.031,580],[2001.038,560],[2001.046,569],[2001.054,576],[2001.061,564],[2001.069,571],[2001.076,562],[2001.084,573],[2001.091,557],[2001.099,567],[2001.107,576],[2001.114,564],[2001.122,573],[2001.129,560],[2001.137,569],[2001.144,578],[2001.152,565],[2001.159,574],[2001.114,551],[2001.061,553],[2000.759,573],[2000.796,562],[2000.895,585],[2000.940,565],[2001.001,583]];
const V_TV05 = [[1999.454,511],[1999.457,507],[1999.461,512],
[1999.510,509],[1999.518,514],[1999.526,504],[1999.533,511],[1999.541,500],[1999.548,516],[1999.556,507],[1999.563,502],[1999.571,512],[1999.579,505],[1999.586,498],[1999.594,511],[1999.601,514],[1999.609,504],[1999.616,509],[1999.624,495],[1999.601,523],
[1999.692,504],[1999.700,509],[1999.707,498],[1999.715,516],[1999.722,493],[1999.730,502],[1999.737,511],[1999.745,497],[1999.752,491],[1999.730,525],[1999.707,519],
[1999.790,511],[1999.798,502],[1999.805,521],[1999.813,498],[1999.828,500],[1999.836,493],[1999.843,484],[1999.851,498],[1999.866,514],
[1999.957,482],[1999.964,502],[1999.972,498],[1999.979,504],[1999.987,497],[1999.995,500],[2000.002,493],[2000.010,498],[2000.017,509],[2000.025,495],[2000.032,489],[2000.040,500],[2000.047,509],[2000.055,491],[2000.063,497],[2000.070,498],[2000.078,488],[2000.085,504],[2000.093,511],[2000.100,495],[2000.108,500],[2000.116,514],[2000.123,498],[2000.131,491],[2000.138,511],[2000.146,497],[2000.153,500],[2000.161,488],[2000.169,504],[2000.176,495],
[2000.206,491],[2000.214,498],[2000.221,507],[2000.229,502],[2000.237,511],[2000.244,505],[2000.252,521],[2000.259,514],[2000.267,525],[2000.274,504],[2000.282,527],[2000.290,519],[2000.297,523],[2000.305,509],[2000.312,504],[2000.320,516],[2000.327,511],[2000.335,528],[2000.343,519],[2000.350,507],[2000.365,530],[2000.312,527],[2000.350,500],
[2000.501,527],[2000.509,518],[2000.516,511],[2000.524,516],[2000.532,512],[2000.539,511],[2000.547,527],[2000.607,527],[2000.615,500],[2000.622,525],[2000.638,511],[2000.645,528],[2000.653,525],[2000.660,518],[2000.675,528],[2000.683,512],[2000.691,523],
[2001.137,532],[2001.144,521],[2001.149,512],[2001.137,516],[2001.129,509],
[2000.955,488],[2000.963,480],[2000.970,482],[2000.978,477],[2000.985,484],[2000.993,479],[2001.001,474],[2001.008,482],[2001.016,477],[2001.023,472],[2001.031,480],[2001.038,475],[2001.122,472],[2001.129,466],[2001.137,477],[2001.144,470],[2001.152,474],[2001.107,463],[2001.114,468],[2000.849,482],[2000.852,477],
[2000.638,470],[2000.653,468],[2000.660,465],[2000.683,470],[2000.691,474]];
const V_PINT_A = [[1999.457,466],[1999.461,465],
[1999.579,472],[1999.586,466],[1999.594,468],[1999.601,461],[1999.609,465],[1999.624,454],[1999.586,475],[1999.556,463],
[1999.684,470],[1999.692,465],[1999.700,457],[1999.707,463],[1999.715,459],[1999.730,454],[1999.737,450],[1999.745,454],[1999.752,449],[1999.722,470],[1999.707,447]];
const V_PINT_B = [[1999.957,457],[1999.960,447],
[2000.032,454],[2000.040,456],[2000.047,452],[2000.055,459],[2000.063,454],[2000.070,450],[2000.078,459],[2000.085,454],[2000.093,452],[2000.100,461],[2000.108,456],[2000.116,459],[2000.123,452],[2000.131,463],[2000.138,456],[2000.146,457],[2000.153,449],[2000.169,442],[2000.070,438],[2000.153,470],
[2000.214,463],[2000.221,468],[2000.229,465],[2000.237,472],[2000.244,461],[2000.252,466],[2000.259,475],[2000.267,465],[2000.274,470],[2000.282,474],[2000.290,463],[2000.297,468],[2000.305,465],[2000.312,459],[2000.320,470],[2000.327,466],[2000.335,472],[2000.343,463],[2000.350,470],[2000.365,482],[2000.274,482],[2000.305,447],
[2000.501,488],[2000.509,482],[2000.516,479],[2000.524,480],[2000.547,493],[2000.554,482],[2000.607,480],[2000.615,477],[2000.638,475],[2000.675,472],[2000.842,528],[2000.849,509],[2000.970,502],[2000.978,509],[2000.985,505],[2000.993,512],[2001.001,502],[2001.008,507],[2001.016,504],[2001.023,509],[2001.031,500],[2001.016,514],[2001.114,505],[2001.122,504],[2001.129,498],[2001.137,495],[2001.144,491],[2001.144,488],[2001.137,511]];
const V_TV12 = [[1999.457,436],[1999.461,433],
[1999.510,424],[1999.518,438],[1999.526,431],[1999.533,434],[1999.541,442],[1999.548,429],[1999.556,438],[1999.563,433],[1999.571,427],[1999.579,436],[1999.586,431],[1999.594,438],[1999.601,433],[1999.609,429],[1999.616,434],[1999.624,426],
[1999.684,436],[1999.692,431],[1999.700,424],[1999.707,434],[1999.715,429],[1999.722,420],[1999.730,427],[1999.700,418],
[1999.790,427],[1999.798,431],[1999.805,440],[1999.821,424],[1999.828,429],[1999.843,426],[1999.851,440],[1999.813,418],
[1999.957,417],[1999.964,424],[1999.972,427],[1999.979,420],[1999.987,426],[1999.995,418],[2000.002,429],[2000.010,422],[2000.017,415],[2000.025,424],[2000.032,420],[2000.040,427],[2000.047,418],[2000.055,411],[2000.063,422],[2000.070,417],[2000.078,426],[2000.085,420],[2000.093,424],[2000.100,418],[2000.108,427],[2000.116,422],[2000.123,417],[2000.131,429],[2000.138,422],[2000.146,418],[2000.153,426],[2000.161,417],[2000.169,408],[2000.063,406],
[2000.206,420],[2000.214,426],[2000.221,429],[2000.229,422],[2000.237,433],[2000.244,426],[2000.335,434],[2000.343,429],[2000.350,426],[2000.335,422],[2000.347,438],
[2000.501,459],[2000.509,454],[2000.516,450],[2000.524,457],[2000.547,454],[2000.607,450],[2000.622,449],[2000.638,449]];
const V_TV03 = [[1999.450,400],[1999.457,399],
[1999.510,401],[1999.518,396],[1999.526,399],[1999.533,403],[1999.541,394],[1999.548,397],[1999.571,399],[1999.616,399],
[1999.692,399],[1999.700,392],[1999.707,401],[1999.715,396],[1999.730,403],[1999.752,390],
[1999.790,397],[1999.798,403],[1999.805,392],[1999.828,401],[1999.843,390],
[1999.960,394],[1999.964,390],[2000.047,381],[2000.108,397],[2000.116,392],[2000.123,388],[2000.274,411],[2000.849,394]];
const V_TV01 = [[1999.454,369],[1999.457,371],
[1999.510,362],[1999.518,367],[1999.526,371],[1999.533,364],[1999.541,374],[1999.548,367],[1999.556,360],[1999.563,373],[1999.571,376],[1999.579,369],[1999.586,364],[1999.594,373],[1999.601,367],[1999.609,360],[1999.616,371],[1999.624,362],
[1999.692,371],[1999.700,362],[1999.707,357],[1999.715,367],[1999.722,360],[1999.730,369],[1999.745,355],[1999.707,351],
[1999.790,367],[1999.798,360],[1999.805,371],[1999.813,357],[1999.798,351],[1999.843,369],[1999.851,360],
[1999.957,357],[1999.960,353],
[2000.032,360],[2000.040,355],[2000.047,362],[2000.055,351],[2000.063,357],[2000.070,364],[2000.078,355],[2000.085,360],[2000.093,349],[2000.100,357],[2000.108,362],[2000.116,355],[2000.123,360],[2000.131,353],[2000.138,364],[2000.146,357],[2000.153,360],[2000.063,348],
[2000.214,364],[2000.221,369],[2000.229,360],[2000.237,373],[2000.244,364],[2000.252,357],[2000.259,369],[2000.267,374],[2000.274,362],[2000.282,371],[2000.290,360],[2000.297,367],[2000.305,376],[2000.312,364],[2000.320,369],[2000.327,357],[2000.335,373],[2000.343,365],[2000.350,360],[2000.327,381],[2000.282,381],
[2000.501,374],[2000.509,378],[2000.516,381],[2000.524,376],[2000.532,380],[2000.539,378],[2000.547,381],[2000.607,376],[2000.615,388],[2000.622,371],[2000.630,385],[2000.638,390],[2000.653,388],[2000.668,390],[2000.683,388],[2000.706,397],[2000.842,408],
[2000.948,388],[2000.955,399],[2000.963,396],[2000.970,401],[2000.978,397],[2000.985,394],[2000.993,401],[2001.001,399],[2001.008,404],[2001.016,396],[2001.023,403],[2001.031,397],[2001.114,392],[2001.122,397],[2001.129,388],[2001.137,394],[2001.144,381],[2001.152,392],[2001.107,383],[2001.114,401]];
const V_TV02 = [[1999.450,334],[1999.454,332],[1999.457,348],
[1999.510,325],[1999.518,332],[1999.526,337],[1999.533,328],[1999.541,335],[1999.548,323],[1999.556,330],[1999.563,341],[1999.571,328],[1999.586,325],[1999.594,335],[1999.601,319],[1999.609,332],[1999.616,330],[1999.624,321],[1999.533,318],
[1999.692,335],[1999.700,326],[1999.707,339],[1999.715,321],[1999.730,346],[1999.745,325],[1999.752,321],
[1999.960,325],[1999.960,312],
[2000.032,321],[2000.040,326],[2000.047,332],[2000.055,319],[2000.063,328],[2000.070,323],[2000.078,334],[2000.085,325],[2000.093,330],[2000.100,321],[2000.108,325],[2000.116,332],[2000.123,326],[2000.131,321],[2000.138,330],[2000.146,335],[2000.153,325],[2000.169,342],[2000.161,312],[2000.063,318],
[2000.214,328],[2000.221,335],[2000.229,325],[2000.237,332],[2000.244,339],[2000.252,330],[2000.259,337],[2000.267,342],[2000.274,335],[2000.282,341],[2000.290,330],[2000.297,344],[2000.305,335],[2000.312,339],[2000.320,342],[2000.327,334],[2000.335,341],[2000.343,332],[2000.350,337],[2000.365,342],[2000.274,349],[2000.365,332]];
const V_TV06 = [[1999.457,307],[1999.465,303],[1999.461,309],
[1999.510,302],[1999.518,307],[1999.526,314],[1999.533,305],[1999.541,311],[1999.548,300],[1999.556,307],[1999.563,312],[1999.571,303],[1999.579,298],[1999.586,305],[1999.594,311],[1999.601,302],[1999.609,305],[1999.616,300],[1999.624,296],[1999.548,321],
[1999.684,307],[1999.692,300],[1999.700,295],[1999.707,303],[1999.715,293],[1999.730,291],[1999.737,298],[1999.745,293],[1999.752,300],[1999.715,298],
[1999.790,296],[1999.798,291],[1999.805,309],[1999.828,298],[1999.836,300],[1999.851,296],[1999.866,290],
[1999.979,305],[1999.987,300],[1999.995,296],[2000.002,293],[2000.010,295],[2000.017,290],[2000.025,293],[2000.032,289],[2000.040,285],[2000.047,291],[2000.055,286],[2000.063,290],[2000.070,282],[2000.078,293],[2000.085,289],[2000.093,295],[2000.100,286],[2000.108,296],[2000.116,291],[2000.123,298],[2000.131,293],[2000.138,302],[2000.146,290],[2000.153,295],[2000.161,305],[2000.047,275],[2000.070,280],[2000.153,286],
[2000.206,296],[2000.214,302],[2000.221,293],[2000.229,300],[2000.237,295],[2000.244,305],[2000.252,298],[2000.259,291],[2000.267,303],[2000.274,296],[2000.282,309],[2000.290,300],[2000.297,293],[2000.305,302],[2000.312,296],[2000.320,305],[2000.327,298],[2000.335,311],[2000.290,314],
[2000.501,319],[2001.008,342],[2001.016,337],[2001.016,332],[2001.001,326],[2001.008,323],[2001.023,335],[2001.122,339],[2001.137,339],[2001.107,321],[2001.144,321]];
const V_TV08 = [[1999.450,243],[1999.454,229],[1999.457,234],[1999.461,240],
[1999.510,233],[1999.518,240],[1999.526,243],[1999.533,229],[1999.541,236],[1999.548,247],[1999.556,238],[1999.563,222],[1999.571,242],[1999.579,233],[1999.586,245],[1999.594,236],[1999.601,229],[1999.609,240],[1999.616,234],[1999.624,242],[1999.609,226],
[1999.684,227],[1999.692,243],[1999.700,252],[1999.707,236],[1999.715,247],[1999.722,240],[1999.730,234],[1999.737,242],[1999.745,233],[1999.752,238],[1999.712,257],
[1999.790,231],[1999.798,240],[1999.805,224],[1999.821,242],[1999.828,247],[1999.836,236],[1999.843,243],[1999.858,252],[1999.866,247],[1999.874,249],[1999.889,234],[1999.878,265],[1999.881,262],
[1999.960,248],
[2000.040,240],[2000.047,227],[2000.055,245],[2000.063,257],[2000.070,242],[2000.078,250],[2000.085,236],[2000.093,256],[2000.100,247],[2000.108,234],[2000.116,252],[2000.123,243],[2000.131,250],[2000.138,238],[2000.146,247],[2000.153,254],[2000.161,245],[2000.169,224],[2000.146,265],[2000.093,240],
[2000.214,242],[2000.221,250],[2000.229,245],[2000.237,238],[2000.244,252],[2000.252,243],[2000.259,249],[2000.267,236],[2000.274,247],[2000.282,242],[2000.290,250],[2000.297,233],[2000.305,243],[2000.312,224],[2000.320,240],[2000.327,234],[2000.335,247],[2000.343,231],[2000.350,240],[2000.358,236],[2000.365,222],[2000.237,233],
[2000.509,249],[2000.516,247],[2000.524,229],[2000.532,233],[2000.539,224],[2000.547,242],[2000.554,217],[2000.607,219],[2000.622,215],[2000.630,224],[2000.638,229],[2000.645,213],[2000.653,231],[2000.668,231],[2000.675,220],[2000.683,227],[2000.691,217],[2000.713,211],[2000.728,210],[2000.736,203],[2000.766,222],[2000.804,220],[2000.812,215],[2000.819,208],[2000.842,234],[2000.849,206],[2000.857,201],
[2000.948,201],[2000.955,215],[2000.963,211],[2000.970,217],[2000.978,208],[2000.985,199],[2000.993,213],[2001.001,226],[2001.008,210],[2001.016,220],[2001.023,215],[2001.031,204],[2001.038,219],[2000.985,204],[2000.970,234],[2001.023,222],
[2001.107,222],[2001.114,215],[2001.122,211],[2001.129,229],[2001.137,217],[2001.144,211],[2001.152,219]];
const V_TV11 = [[1999.454,206],[1999.457,194],[1999.465,197],
[1999.510,180],[1999.518,194],[1999.526,185],[1999.533,201],[1999.541,210],[1999.548,192],[1999.556,199],[1999.563,180],[1999.571,187],[1999.579,201],[1999.586,197],[1999.594,210],[1999.601,187],[1999.609,180],[1999.616,192],[1999.624,176],[1999.548,217],
[1999.692,180],[1999.700,211],[1999.707,206],[1999.715,192],[1999.722,201],[1999.730,197],[1999.737,172],[1999.745,197],[1999.752,172],
[1999.798,183],[1999.828,190],[1999.836,213],[1999.843,190],[1999.858,171],
[1999.987,199],[1999.995,185],[2000.002,197],[2000.010,188],[2000.017,172],[2000.025,190],[2000.032,185],[2000.040,197],[2000.047,180],[2000.055,192],[2000.063,165],[2000.070,181],[2000.078,171],[2000.085,194],[2000.093,210],[2000.100,180],[2000.108,192],[2000.116,199],[2000.123,183],[2000.131,172],[2000.138,211],[2000.146,196],[2000.153,180],[2000.161,194],[2000.169,155],[2000.123,164],[2000.063,176],[2000.010,185],
[2000.206,174],[2000.214,180],[2000.221,192],[2000.229,199],[2000.237,187],[2000.244,192],[2000.252,201],[2000.214,211],[2000.335,203],[2000.335,201]];
const V_TV10 = [[1999.450,169],[1999.454,148],[1999.457,164],
[1999.510,125],[1999.518,155],[1999.526,144],[1999.533,151],[1999.541,158],[1999.548,142],[1999.556,149],[1999.563,162],[1999.571,146],[1999.579,130],[1999.586,153],[1999.594,141],[1999.601,167],[1999.609,149],[1999.616,144],[1999.624,135],[1999.533,146],[1999.556,155],
[1999.692,146],[1999.700,156],[1999.707,135],[1999.715,164],[1999.722,149],[1999.730,134],[1999.737,141],[1999.745,137],[1999.752,144],[1999.712,155],
[1999.790,144],[1999.798,153],[1999.805,146],[1999.828,141],[1999.836,142],[1999.843,128],[1999.851,144],[1999.866,156],
[1999.957,126],[1999.964,144],[1999.972,139],[1999.979,148],[1999.987,137],[1999.995,144],[2000.002,132],[2000.010,141],[2000.017,146],[2000.025,130],[2000.032,139],[2000.040,125],[2000.047,134],[2000.055,142],[2000.063,135],[2000.070,130],[2000.078,137],[2000.085,126],[2000.010,123],[2000.047,121],
[2000.221,180],[2000.282,176],
[2000.516,153],[2000.524,141],[2000.509,137],[2000.532,130],[2000.539,125],[2000.547,121],[2000.569,102],[2000.615,160],[2000.622,110],[2000.630,102],[2000.638,121],[2000.645,130],[2000.653,128],[2000.675,130],[2000.683,112],[2000.842,112],
[2000.970,119],[2000.970,84],[2000.985,116],[2000.993,125],[2001.001,153],[2001.008,110],[2001.016,123],[2001.023,102],[2001.031,121],[2001.016,93],[2001.023,125],
[2001.107,102],[2001.114,121],[2001.122,134],[2001.129,128],[2001.137,141],[2001.144,130],[2001.152,125],[2001.137,91]];
const V_TV13 = [[1999.957,100],[1999.957,68],[2000.040,66],[2000.047,102],[2000.055,86],[2000.063,98],[2000.070,93],[2000.078,77],[2000.085,84],[2000.093,68],[2000.100,102],[2000.108,95],[2000.116,88],[2000.123,70],[2000.131,86],[2000.138,54],[2000.146,114],[2000.153,102],[2000.161,105],[2000.169,61],[2000.146,121],[2000.138,109],
[2000.214,110],[2000.221,88],[2000.229,103],[2000.237,52],[2000.244,59],[2000.252,109],[2000.259,93],[2000.267,126],[2000.274,105],[2000.282,102],[2000.290,134],[2000.297,121],[2000.305,82],[2000.312,109],[2000.320,105],[2000.327,95],[2000.335,88],[2000.343,93],[2000.350,137],[2000.358,95],[2000.365,112],[2000.373,93],[2000.380,102],[2000.388,98],[2000.395,86],[2000.403,73],[2000.411,80],[2000.418,93],[2000.426,66],[2000.433,84],[2000.441,73],[2000.448,65],[2000.456,88],[2000.464,50],[2000.471,79],[2000.479,95],[2000.486,65],[2000.494,84],[2000.501,89],[2000.509,80],[2000.516,86],[2000.524,77],[2000.532,82],[2000.539,72],[2000.547,102],[2000.554,66],[2000.562,56],[2000.569,82],[2000.577,73],[2000.585,66],[2000.592,47],[2000.600,65],[2000.607,95],[2000.610,25],[2000.622,24],[2000.630,110],[2000.638,82],[2000.645,66],[2000.653,112],[2000.660,63],[2000.668,89],[2000.675,52],[2000.683,80],[2000.691,41],[2000.698,54],[2000.713,54],[2000.721,13],[2000.728,77],[2000.736,47],[2000.743,77],[2000.766,65],[2000.774,77],[2000.789,86],[2000.796,52],[2000.804,41],[2000.812,68],[2000.819,68],[2000.827,59],[2000.834,82],[2000.842,79],[2000.849,66],[2000.857,86],[2000.864,56],[2000.872,45],[2000.880,70],[2000.887,40],[2000.895,59],[2000.902,50],[2000.910,65],[2000.917,91],[2000.925,41],[2000.933,50],[2000.940,24],[2000.948,34],[2000.955,59],[2000.963,72],[2000.970,41],[2000.978,56],[2000.985,70],[2000.993,38],[2001.001,54],[2001.008,75],[2001.016,49],[2001.023,65],[2001.031,34],[2001.038,59],[2001.046,73],[2001.054,43],[2001.061,63],[2001.069,80],[2001.076,52],[2001.084,66],[2001.091,41],[2001.099,56],[2001.107,18],[2001.114,73],[2001.122,45],[2001.129,65],[2001.137,36],[2001.144,49],[2001.152,41],[2001.152,86],[2001.137,93],[2000.910,52],[2000.955,45],[2001.016,34],[2001.046,54],[2001.084,41],[2000.970,31],[2000.880,56],[2000.917,73],[2000.993,80],[2001.061,50],[2001.122,77]];

// ---------------- layout / style ----------------
const GRIDS = [{left:64,top:10,width:397,height:559},{left:472,top:10,width:397,height:559},{left:881,top:10,width:396,height:559}];
const TITLE_POS = [[77,10],[489,10],[941,10]];
const MARK = {
  big:  {size:9, style:{color:'#333', borderColor:'#111', borderWidth:0.6}},
  mid:  {size:8, style:{color:'#333', borderColor:'#111', borderWidth:0.6}},
  fill: {size:5, style:{color:'#222', borderColor:'#000', borderWidth:0.5}},
  open: {size:5, style:{color:'#fff', borderColor:'#000', borderWidth:1}}
};
const PANELS = [
  {labelY:N_LABEL_Y, groups:[[N_TV13,'open'],[N_TV10,'fill'],[N_TV11,'open'],[N_TV08,'fill'],[N_TV06,'open'],[N_TV02,'fill'],[N_TV01,'open'],[N_TV03,'fill'],[N_TV12,'open'],[N_PINT_B,'fill'],[N_PINT_A,'mid'],[N_TV05,'open'],[N_TVST,'big']]},
  {labelY:E_LABEL_Y, groups:[[E_TV13,'open'],[E_TV10,'fill'],[E_TV11,'open'],[E_TV08,'fill'],[E_TV06,'open'],[E_TV02,'fill'],[E_TV01,'open'],[E_TV03,'fill'],[E_TV12,'open'],[E_PINT_B,'fill'],[E_PINT_A,'mid'],[E_TV05,'open'],[E_TVST,'big']]},
  {labelY:V_LABEL_Y, groups:[[V_TV13,'open'],[V_TV10,'fill'],[V_TV11,'open'],[V_TV08,'fill'],[V_TV06,'open'],[V_TV02,'fill'],[V_TV01,'open'],[V_TV03,'fill'],[V_TV12,'open'],[V_PINT_B,'fill'],[V_PINT_A,'mid'],[V_TV05,'open'],[V_TVST,'big']]}
];

const SERIF = 'Liberation Serif';
const SANS = 'Noto Sans';
const FRAME = {color:'#000', width:2.5};
const xAxis = [], yAxis = [], series = [], graphic = [];

GRIDS.forEach((g, gi) => {
  xAxis.push({
    type:'value', gridIndex:gi, min:X_MIN, max:X_MAX, interval:X_STEP, position:'bottom',
    axisLine:{show:true, onZero:false, lineStyle:FRAME},
    axisTick:{show:true, inside:false, length:4, lineStyle:{color:'#000', width:1}},
    axisLabel:{show:true, margin:3, color:'#000', fontFamily:SERIF, fontSize:16, showMinLabel:true, showMaxLabel:true,
      formatter:function(v){ const s = v.toFixed(1); if (s === X_LABELS[0]) return '{first|' + s + '}'; return X_LABELS.indexOf(s) >= 0 ? s : ''; },
      rich:{first:{padding:[0,0,0,16], fontFamily:SERIF, fontSize:16, color:'#000'}}},
    splitLine:{show:false},
    name:'Year', nameLocation:'middle', nameGap:17, nameTextStyle:{fontFamily:SANS, fontSize:20, color:'#000'}
  });
  xAxis.push({
    type:'value', gridIndex:gi, min:X_MIN, max:X_MAX, interval:X_STEP, position:'top',
    axisLine:{show:true, onZero:false, lineStyle:FRAME},
    axisTick:{show:true, inside:false, length:5, lineStyle:{color:'#000', width:1}},
    axisLabel:{show:false}, splitLine:{show:false}
  });
  const left = {
    type:'value', gridIndex:gi, min:Y_MIN, max:Y_MAX, interval:Y_STEP, position:'left',
    axisLine:{show:true, onZero:false, lineStyle:FRAME},
    axisTick:{show:true, inside:false, length:4, lineStyle:{color:'#000', width:1}},
    axisLabel:{show:gi === 0, margin:7, color:'#000', fontFamily:SERIF, fontSize:15, showMaxLabel:false,
      formatter:function(v){ return (Math.round(v) % 100 === 0) ? String(Math.round(v)) : ''; }},
    splitLine:{show:true, lineStyle:{color:'#3c3c3c', width:1}}
  };
  if (gi === 0) {
    left.name = 'Coordinate Change (mm)'; left.nameLocation = 'middle'; left.nameGap = 33;
    left.nameTextStyle = {fontFamily:SANS, fontSize:20, color:'#000'};
  }
  yAxis.push(left);
  yAxis.push({
    type:'value', gridIndex:gi, min:Y_MIN, max:Y_MAX, interval:Y_STEP, position:'right',
    axisLine:{show:true, onZero:false, lineStyle:FRAME},
    axisTick:{show:true, inside:false, length:4, lineStyle:{color:'#000', width:1}},
    axisLabel:{show:false}, splitLine:{show:false}
  });

  const p = PANELS[gi];
  series.push({
    type:'scatter', xAxisIndex:2*gi, yAxisIndex:2*gi, symbolSize:1, silent:true, z:2,
    itemStyle:{color:'rgba(0,0,0,0)'},
    label:{show:true, position:'right', distance:0, formatter:'{b}', fontFamily:SERIF, fontSize:13, color:'#111'},
    data: STATIONS.map((s, i) => {
      const d = {name:s, value:[LABEL_X, p.labelY[i]]};
      if (gi === 0 && s === 'PINT/TV07') d.label = {backgroundColor:'#fff', padding:[0,1,0,0]};
      return d;
    })
  });
  p.groups.forEach(([data, kind]) => {
    series.push({
      type:'scatter', xAxisIndex:2*gi, yAxisIndex:2*gi, data:data, symbol:'circle',
      symbolSize:MARK[kind].size, itemStyle:MARK[kind].style, silent:true, z:3
    });
  });
  graphic.push({type:'text', left:TITLE_POS[gi][0], top:TITLE_POS[gi][1], z:10,
    style:{text:PANEL_TITLES[gi], font:'bold 22px "Noto Sans"', fill:'#000'}});
});

series.push({
  type:'scatter', xAxisIndex:4, yAxisIndex:4, symbolSize:1, silent:true, z:2,
  itemStyle:{color:'rgba(0,0,0,0)'},
  label:{show:true, position:'left', distance:0, formatter:'{b}', fontFamily:SERIF, fontSize:16, color:'#111'},
  data: SITE_NOTES.map((s, i) => ({name:s, value:[SITE_NOTE_X, SITE_NOTE_Y[i]]})),
  markLine:{silent:true, symbol:['none','none'], label:{show:false},
    lineStyle:{color:'#111', width:2, type:[32,33]}, data:[{yAxis:DIVIDER_Y}]}
});

const chart = echarts.init(document.getElementById('c'), null, {renderer:'canvas'});
chart.setOption({
  animation:false, backgroundColor:'#fff',
  grid: GRIDS.map(g => Object.assign({containLabel:false}, g)),
  xAxis, yAxis, series, graphic
});
</script></body></html>
